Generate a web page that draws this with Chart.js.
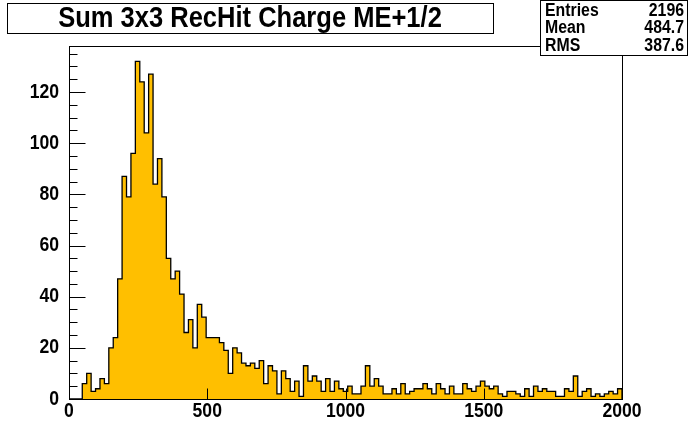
<!DOCTYPE html>
<html>
<head>
<meta charset="utf-8">
<script src="https://cdn.jsdelivr.net/npm/chart.js@4.4.1/dist/chart.umd.min.js"></script>
<style>
  html, body { margin: 0; padding: 0; background: #fff; }
  canvas { display: block; }
</style>
</head>
<body>
<canvas id="histChart" width="692" height="444"></canvas>
<script>
    // Binning: 125 bins of 16 between 0 and 2000
    const xMin = 0;
    const xMax = 2000;
    const binWidth = 16;

    // Bin contents
    const binCounts = [
        0, 0, 0, 6, 10, 3, 4, 8, 6,
        20, 24, 47, 87, 79, 96,
        132, 124, 104, 127, 84, 94,
        79, 55, 47, 50, 41, 26, 31, 20,
        37, 32, 24, 24, 24, 22, 19,
        10, 20, 18, 14, 13, 14, 12, 15,
        6, 13, 11, 2, 11, 8, 3, 7, 1,
        13, 7, 9, 7, 3, 8, 3, 7,
        4, 3, 5, 2, 2, 5, 13, 5, 8, 5,
        2, 2, 4, 2, 6, 2, 3, 4, 4, 6,
        4, 2, 6, 4, 2, 5, 2, 2, 6, 4,
        3, 5, 7, 5, 4, 5, 2, 1, 3, 3,
        2, 1, 4, 1, 5, 3, 4, 3, 3, 1,
        1, 4, 3, 9, 1, 3, 4, 1, 2, 1, 2, 3, 2, 4
    ];

    // Axis ticks
    const xTickValues = [0, 500, 1000, 1500, 2000];
    const yTickValues = [0, 20, 40, 60, 80, 100, 120];
    const yMinorStep = 5;
    const yMax = 138;

    // Title and stats box text
    const titleText = 'Sum 3x3 RecHit Charge ME+1/2';
    const statNames = ['Entries', 'Mean', 'RMS'];
    const statValues = ['2196', '484.7', '387.6'];

    const fillColor = '#ffbf00';
    const narrow = 0.88; // ROOT's helvetica looks a bit condensed

    // Step outline points at the bin edges
    const points = binCounts.map((c, i) => ({ x: xMin + i * binWidth, y: c }));
    points.push({ x: xMax, y: binCounts[binCounts.length - 1] });
    points.push({ x: xMax, y: 0 });

    function drawText(ctx, text, x, y, size, align) {
        ctx.save();
        ctx.font = 'bold ' + size + 'px "Liberation Sans", Arial, sans-serif';
        ctx.textBaseline = 'middle';
        ctx.textAlign = align;
        ctx.fillStyle = '#000';
        ctx.translate(x, y);
        ctx.scale(narrow, 1);
        ctx.fillText(text, 0, 0);
        ctx.restore();
    }

    // Frame, inside ticks, title and stats pave like ROOT draws them
    const rootFrame = {
        id: 'rootFrame',
        beforeDraw(chart) {
            const ctx = chart.ctx;
            ctx.save();
            ctx.fillStyle = '#fff';
            ctx.fillRect(0, 0, chart.width, chart.height);
            ctx.restore();
        },
        afterDraw(chart) {
            const ctx = chart.ctx;
            const a = chart.chartArea;
            const xs = chart.scales.x;
            const ys = chart.scales.y;
            const L = Math.round(a.left) + 0.5;
            const R = Math.round(a.right) + 0.5;
            const T = Math.round(a.top) + 0.5;
            const B = Math.round(a.bottom) + 0.5;

            ctx.save();
            ctx.strokeStyle = '#000';
            ctx.lineWidth = 1;
            ctx.strokeRect(L, T, R - L, B - T);

            // y ticks
            ctx.beginPath();
            for (let v = 0; v <= yMax; v += yMinorStep) {
                const py = Math.round(ys.getPixelForValue(v)) + 0.5;
                const len = yTickValues.includes(v) ? 16 : 8;
                ctx.moveTo(L, py);
                ctx.lineTo(L + len, py);
            }
            // x ticks
            xTickValues.forEach(v => {
                const px = Math.round(xs.getPixelForValue(v)) + 0.5;
                ctx.moveTo(px, B);
                ctx.lineTo(px, B - 11);
            });
            ctx.stroke();
            ctx.restore();

            yTickValues.forEach(v => {
                drawText(ctx, String(v), a.left - 10, ys.getPixelForValue(v), 20, 'right');
            });
            xTickValues.forEach(v => {
                drawText(ctx, String(v), xs.getPixelForValue(v), a.bottom + 12, 20, 'center');
            });

            // title box
            ctx.save();
            ctx.fillStyle = '#fff';
            ctx.strokeStyle = '#000';
            ctx.fillRect(7.5, 3.5, 486, 30);
            ctx.strokeRect(7.5, 3.5, 486, 30);
            ctx.restore();
            drawText(ctx, titleText, 250, 19, 29, 'center');

            // stats box
            ctx.save();
            ctx.fillStyle = '#fff';
            ctx.strokeStyle = '#000';
            ctx.fillRect(540.5, 0.5, 147, 55);
            ctx.strokeRect(540.5, 0.5, 147, 55);
            ctx.restore();
            statNames.forEach((name, k) => {
                const cy = 11 + 17.5 * k;
                drawText(ctx, name, 545, cy, 18, 'left');
                drawText(ctx, statValues[k], 684, cy, 18, 'right');
            });
        }
    };

    const ctx = document.getElementById('histChart').getContext('2d');

    new Chart(ctx, {
        type: 'line',
        data: {
            datasets: [{
                label: 'Sum 3x3 RecHit Charge',
                data: points,
                stepped: true,
                fill: 'origin',
                backgroundColor: fillColor,
                borderColor: '#000',
                borderWidth: 1.3,
                pointRadius: 0,
                tension: 0
            }]
        },
        options: {
            responsive: false,
            animation: false,
            layout: { padding: { top: 46, right: 70, left: 0, bottom: 0 } },
            plugins: {
                legend: { display: false },
                tooltip: { enabled: false }
            },
            scales: {
                x: {
                    type: 'linear',
                    min: xMin,
                    max: xMax,
                    ticks: { display: false },
                    grid: { display: false },
                    border: { display: false },
                    afterFit: s => { s.height = 45; }
                },
                y: {
                    type: 'linear',
                    min: 0,
                    max: yMax,
                    ticks: { display: false },
                    grid: { display: false },
                    border: { display: false },
                    afterFit: s => { s.width = 69; }
                }
            }
        },
        plugins: [rootFrame]
    });
</script>
</body>
</html>
